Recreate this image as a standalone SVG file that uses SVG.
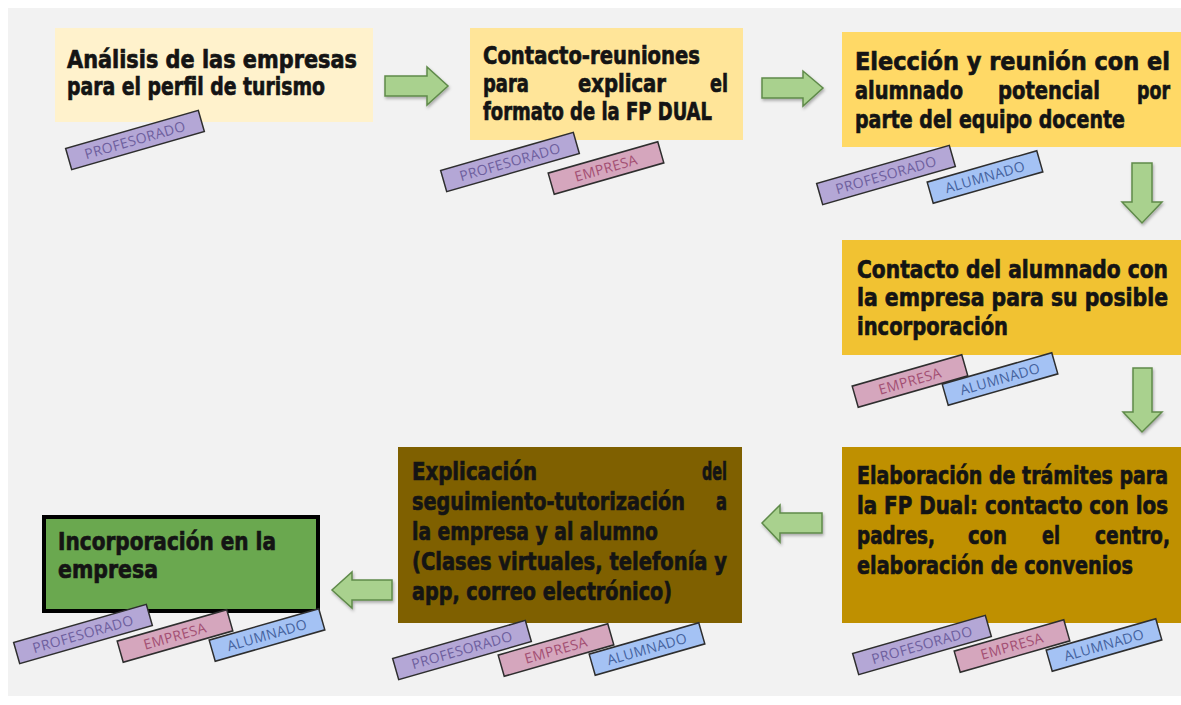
<svg xmlns="http://www.w3.org/2000/svg" width="1181" height="705" viewBox="0 0 1181 705">
<defs>
<style>
.t{font-family:"DejaVu Sans Condensed","DejaVu Sans","Liberation Sans",sans-serif;font-stretch:condensed;font-weight:bold;font-size:19px;fill:#141414;stroke:#141414;stroke-width:0.5}
.tag rect{stroke:#2e2e2e;stroke-width:1.5}
.tag text{font-family:"Open Sans","Liberation Sans",sans-serif;font-size:14px;letter-spacing:0.4px;text-anchor:middle}
.prof rect{fill:#b4a7d6}.prof text{fill:#6e5f9e}
.emp rect{fill:#d5a6bd}.emp text{fill:#a34f73}
.alu rect{fill:#a4c2f4}.alu text{fill:#44639e}
.arr{fill:#a9d18e;stroke:#5f8a4a;stroke-width:1.5;stroke-linejoin:miter}
</style>
<filter id="sh" x="-20%" y="-20%" width="140%" height="140%"><feDropShadow dx="1" dy="2" stdDeviation="1.5" flood-color="#000" flood-opacity="0.3"/></filter>
</defs>
<rect width="1181" height="705" fill="#ffffff"/>
<rect x="8" y="8" width="1173" height="688" fill="#f2f2f2"/>

<g id="connectors">
<polygon class="arr" filter="url(#sh)" points="385,76 427,76 427,67 448,86 427,105 427,96 385,96"/>
<polygon class="arr" filter="url(#sh)" points="762,78 803,78 803,71 823,88 803,106 803,98 762,98"/>
<polygon class="arr" filter="url(#sh)" points="1132,163 1152,163 1152,202 1162,202 1142,223 1122,202 1132,202"/>
<polygon class="arr" filter="url(#sh)" points="1133,368 1152,368 1152,412 1162,412 1142,432 1123,412 1133,412"/>
<polygon class="arr" filter="url(#sh)" points="822,513 780,513 780,505 762,523 780,542 780,533 822,533"/>
<polygon class="arr" filter="url(#sh)" points="392,580 352,580 352,572 332,590 352,608 352,600 392,600"/>
</g>

<g id="n1">
<rect x="55" y="28" width="318" height="94" fill="#fff2cc"/>
<text class="t" transform="translate(67 68) scale(1 1.35)" textLength="290" lengthAdjust="spacingAndGlyphs">Análisis de las empresas</text>
<text class="t" transform="translate(67 95) scale(1 1.35)" textLength="258" lengthAdjust="spacingAndGlyphs">para el perfil de turismo</text>
<g class="tag prof" transform="translate(135,140) rotate(-16)"><rect x="-69" y="-11" width="138" height="22"/><text y="5">PROFESORADO</text></g>
</g>

<g id="n2">
<rect x="470" y="28" width="273" height="112" fill="#ffe599"/>
<text class="t" transform="translate(483 64) scale(1 1.35)" textLength="217" lengthAdjust="spacingAndGlyphs">Contacto-reuniones</text>
<text class="t" transform="translate(483 92) scale(1 1.35)" textLength="46" lengthAdjust="spacingAndGlyphs">para</text>
<text class="t" transform="translate(578 92) scale(1 1.35)" textLength="88" lengthAdjust="spacingAndGlyphs">explicar</text>
<text class="t" transform="translate(710 92) scale(1 1.35)" textLength="18" lengthAdjust="spacingAndGlyphs">el</text>
<text class="t" transform="translate(483 120) scale(1 1.35)" textLength="229" lengthAdjust="spacingAndGlyphs">formato de la FP DUAL</text>
<g class="tag prof" transform="translate(510,162) rotate(-16)"><rect x="-69" y="-11" width="138" height="22"/><text y="5">PROFESORADO</text></g>
<g class="tag emp" transform="translate(606,168) rotate(-16)"><rect x="-57" y="-11" width="114" height="22"/><text y="5">EMPRESA</text></g>
</g>

<g id="n3">
<rect x="842" y="32" width="339" height="115" fill="#ffd966"/>
<text class="t" transform="translate(855 70) scale(1 1.35)" textLength="315" lengthAdjust="spacingAndGlyphs">Elección y reunión con el</text>
<text class="t" transform="translate(855 99) scale(1 1.35)" textLength="108" lengthAdjust="spacingAndGlyphs">alumnado</text>
<text class="t" transform="translate(998 99) scale(1 1.35)" textLength="102" lengthAdjust="spacingAndGlyphs">potencial</text>
<text class="t" transform="translate(1137 99) scale(1 1.35)" textLength="33" lengthAdjust="spacingAndGlyphs">por</text>
<text class="t" transform="translate(855 128) scale(1 1.35)" textLength="270" lengthAdjust="spacingAndGlyphs">parte del equipo docente</text>
<g class="tag prof" transform="translate(886,175) rotate(-16)"><rect x="-69" y="-11" width="138" height="22"/><text y="5">PROFESORADO</text></g>
<g class="tag alu" transform="translate(985,177) rotate(-16)"><rect x="-57" y="-11" width="114" height="22"/><text y="5">ALUMNADO</text></g>
</g>

<g id="n4">
<rect x="842" y="240" width="339" height="115" fill="#f1c232"/>
<text class="t" transform="translate(857 278) scale(1 1.35)" textLength="311" lengthAdjust="spacingAndGlyphs">Contacto del alumnado con</text>
<text class="t" transform="translate(857 306) scale(1 1.35)" textLength="311" lengthAdjust="spacingAndGlyphs">la empresa para su posible</text>
<text class="t" transform="translate(857 335) scale(1 1.35)" textLength="151" lengthAdjust="spacingAndGlyphs">incorporación</text>
<g class="tag emp" transform="translate(910,381) rotate(-16)"><rect x="-57" y="-11" width="114" height="22"/><text y="5">EMPRESA</text></g>
<g class="tag alu" transform="translate(1000,379) rotate(-16)"><rect x="-57" y="-11" width="114" height="22"/><text y="5">ALUMNADO</text></g>
</g>

<g id="n5">
<rect x="842" y="447" width="339" height="176" fill="#bf9000"/>
<text class="t" transform="translate(857 484) scale(1 1.35)" textLength="311" lengthAdjust="spacingAndGlyphs">Elaboración de trámites para</text>
<text class="t" transform="translate(857 514) scale(1 1.35)" textLength="311" lengthAdjust="spacingAndGlyphs">la FP Dual: contacto con los</text>
<text class="t" transform="translate(857 544) scale(1 1.35)" textLength="78" lengthAdjust="spacingAndGlyphs">padres,</text>
<text class="t" transform="translate(968 544) scale(1 1.35)" textLength="39" lengthAdjust="spacingAndGlyphs">con</text>
<text class="t" transform="translate(1042 544) scale(1 1.35)" textLength="18" lengthAdjust="spacingAndGlyphs">el</text>
<text class="t" transform="translate(1095 544) scale(1 1.35)" textLength="75" lengthAdjust="spacingAndGlyphs">centro,</text>
<text class="t" transform="translate(857 574) scale(1 1.35)" textLength="276" lengthAdjust="spacingAndGlyphs">elaboración de convenios</text>
<g class="tag prof" transform="translate(922,645) rotate(-16)"><rect x="-69" y="-11" width="138" height="22"/><text y="5">PROFESORADO</text></g>
<g class="tag emp" transform="translate(1012,646) rotate(-16)"><rect x="-57" y="-11" width="114" height="22"/><text y="5">EMPRESA</text></g>
<g class="tag alu" transform="translate(1104,645) rotate(-16)"><rect x="-57" y="-11" width="114" height="22"/><text y="5">ALUMNADO</text></g>
</g>

<g id="n6">
<rect x="398" y="447" width="344" height="176" fill="#7f6000"/>
<text class="t" transform="translate(412 480) scale(1 1.35)" textLength="125" lengthAdjust="spacingAndGlyphs">Explicación</text>
<text class="t" transform="translate(702 480) scale(1 1.35)" textLength="25" lengthAdjust="spacingAndGlyphs">del</text>
<text class="t" transform="translate(412 510) scale(1 1.35)" textLength="273" lengthAdjust="spacingAndGlyphs">seguimiento-tutorización</text>
<text class="t" transform="translate(716 510) scale(1 1.35)" textLength="11" lengthAdjust="spacingAndGlyphs">a</text>
<text class="t" transform="translate(412 540) scale(1 1.35)" textLength="246" lengthAdjust="spacingAndGlyphs">la empresa y al alumno</text>
<text class="t" transform="translate(412 570) scale(1 1.35)" textLength="315" lengthAdjust="spacingAndGlyphs">(Clases virtuales, telefonía y</text>
<text class="t" transform="translate(412 600) scale(1 1.35)" textLength="260" lengthAdjust="spacingAndGlyphs">app, correo electrónico)</text>
<g class="tag prof" transform="translate(462,650) rotate(-16)"><rect x="-69" y="-11" width="138" height="22"/><text y="5">PROFESORADO</text></g>
<g class="tag emp" transform="translate(556,650) rotate(-16)"><rect x="-57" y="-11" width="114" height="22"/><text y="5">EMPRESA</text></g>
<g class="tag alu" transform="translate(647,649) rotate(-16)"><rect x="-57" y="-11" width="114" height="22"/><text y="5">ALUMNADO</text></g>
</g>

<g id="n7">
<rect x="44" y="517" width="274" height="94" fill="#6aa84f" stroke="#000" stroke-width="4"/>
<text class="t" transform="translate(58 550) scale(1 1.35)" textLength="218" lengthAdjust="spacingAndGlyphs">Incorporación en la</text>
<text class="t" transform="translate(58 578) scale(1 1.35)" textLength="100" lengthAdjust="spacingAndGlyphs">empresa</text>
<g class="tag prof" transform="translate(83,634) rotate(-16)"><rect x="-69" y="-11" width="138" height="22"/><text y="5">PROFESORADO</text></g>
<g class="tag emp" transform="translate(175,636) rotate(-16)"><rect x="-57" y="-11" width="114" height="22"/><text y="5">EMPRESA</text></g>
<g class="tag alu" transform="translate(267,635) rotate(-16)"><rect x="-57" y="-11" width="114" height="22"/><text y="5">ALUMNADO</text></g>
</g>
</svg>
